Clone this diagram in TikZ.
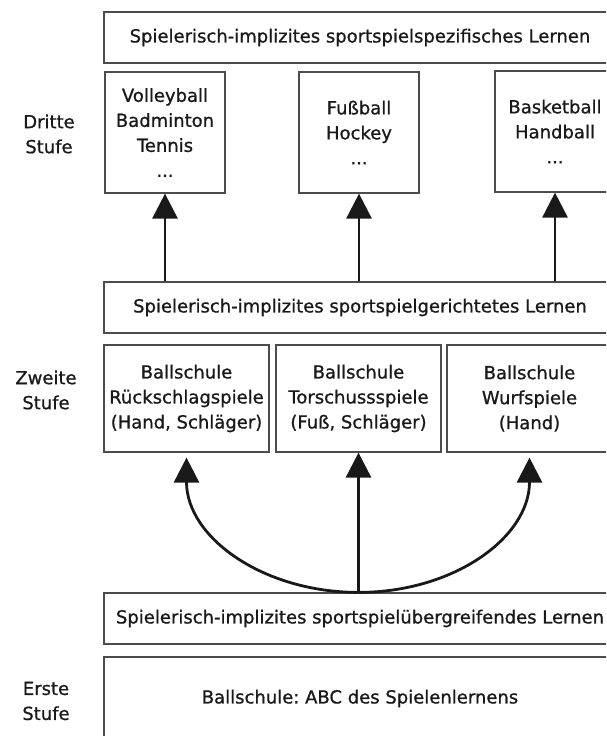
\documentclass[tikz,border=0pt]{standalone}
\usepackage{fontspec}
\setmainfont{DejaVu Sans}[FakeBold=0.9]
\usepackage{tikz}
\usetikzlibrary{arrows.meta}
\frenchspacing

\begin{document}
\begin{tikzpicture}[x=1pt, y=-1pt,
    box/.style={draw=black!70, line width=1.2pt, fill=white, align=center,
        inner sep=0pt, text=black!90, font=\fontsize{18}{25}\selectfont},
    stufe/.style={align=center, text=black!90, font=\fontsize{18}{25}\selectfont},
    pfeil/.style={line width=2.8pt, draw=black!90, -{Triangle[length=25pt, width=25pt]}}]
        \useasboundingbox (0,0) rectangle (606,736);
        \clip (0,0) rectangle (606,736);

        % Dritte Stufe
        \node[box, minimum width=512pt, minimum height=51pt] (spez) at (360,37.5)
            {Spielerisch-implizites sportspielspezifisches Lernen};
        \node[box, minimum width=120pt, minimum height=121pt] (vb) at (165,132.5)
            {Volleyball\\Badminton\\Tennis\\...};
        \node[box, minimum width=120pt, minimum height=121pt] (fb) at (359,132.5)
            {Fußball\\Hockey\\...};
        \node[box, minimum width=120pt, minimum height=121pt] (bb) at (555,131.5)
            {Basketball\\Handball\\...};
        \node[stufe] (s3) at (49,134) {Dritte\\Stufe};

        % Zweite Stufe
        \node[box, minimum width=512pt, minimum height=51pt] (gericht) at (360,307.5)
            {Spielerisch-implizites sportspielgerichtetes Lernen};
        \node[box, minimum width=165pt, minimum height=107pt] (rs) at (186.5,398.5)
            {Ballschule\\Rückschlagspiele\\(Hand, Schläger)};
        \node[box, minimum width=165pt, minimum height=107pt] (ts) at (358.5,398.5)
            {Ballschule\\Torschussspiele\\(Fuß, Schläger)};
        \node[box, minimum width=165pt, minimum height=107pt] (ws) at (529.5,398.5)
            {Ballschule\\Wurfspiele\\(Hand)};
        \node[stufe] (s2) at (46,390) {Zweite\\Stufe};

        % Erste Stufe
        \node[box, minimum width=512pt, minimum height=51pt] (ueb) at (360,618.5)
            {Spielerisch-implizites sportspielübergreifendes Lernen};
        \node[box, minimum width=512pt, minimum height=83pt] (abc) at (360,698.5)
            {Ballschule: ABC des Spielenlernens};
        \node[stufe] (s1) at (46,701) {Erste\\Stufe};

        % Arrows to the sports
        \foreach \n in {vb, fb, bb}
            \draw[pfeil] (gericht.north -| \n.south) -- (\n.south);

        % Arrows to the Ballschule boxes
        \coordinate (fuss) at (ueb.north -| ts.south);
        \draw[pfeil] (fuss) -- (ts.south);
        \draw[pfeil] (fuss) .. controls +(-95,0) and +(0,80) .. ([yshift=-5pt]rs.south);
        \draw[pfeil] (fuss) .. controls +(95,0) and +(0,80) .. ([yshift=-5pt]ws.south);
\end{tikzpicture}
\end{document}
